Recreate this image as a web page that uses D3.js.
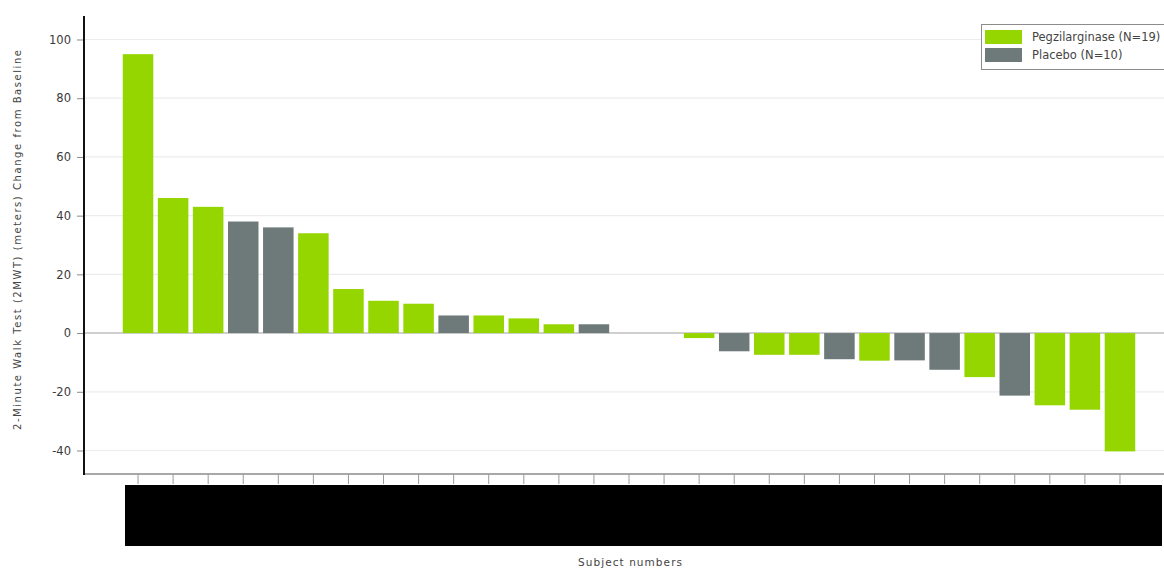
<!DOCTYPE html>
<html>
<head>
<meta charset="utf-8">
<script src="https://cdn.jsdelivr.net/npm/d3@7"></script>
<style>
  html, body { margin: 0; padding: 0; background: #ffffff; }
  svg { display: block; }
  text { font-family: "DejaVu Sans", "Liberation Sans", sans-serif; }
</style>
</head>
<body>
<svg id="chart" width="1164" height="568"></svg>
<script>
// Subjects (identifiers are masked in the label band below the axis)
const subjects = ["S01","S02","S03","S04","S05","S06","S07","S08","S09","S10",
                  "S11","S12","S13","S14","S15","S16","S17","S18","S19","S20",
                  "S21","S22","S23","S24","S25","S26","S27","S28","S29"];

// Treatment arm for each subject
const arms = ["Peg","Peg","Peg","Pbo","Pbo","Peg","Peg","Peg","Peg","Pbo",
              "Peg","Peg","Peg","Pbo","Peg","Pbo","Peg","Pbo","Peg","Peg",
              "Pbo","Peg","Pbo","Pbo","Peg","Pbo","Peg","Peg","Peg"];

// 2MWT change from baseline (meters); null = no value recorded
const changes = [95, 46, 43, 38, 36, 34, 15, 11, 10, 6,
                 6, 5, 3, 3, null, null, -1.7, -6.2, -7.4, -7.4,
                 -8.9, -9.4, -9.3, -12.5, -15, -21.3, -24.6, -26.1, -40.3];

const yTicks = [100, 80, 60, 40, 20, 0, -20, -40];

const legendLabels = ["Pegzilarginase (N=19)", "Placebo (N=10)"];
const armKeys = ["Peg", "Pbo"];
const armColors = ["#95d500", "#6e7a79"];

const rows = subjects.map((s, i) => ({ subject: s, arm: arms[i], value: changes[i] }));

const svg = d3.select("#chart");
const W = 1164;

const x = d3.scaleBand()
  .domain(subjects)
  .range([120.5, 1137.5])
  .paddingInner(0.13)
  .paddingOuter(0.065);

const y = d3.scaleLinear().domain([-48, 108]).range([474, 16]);

const color = d3.scaleOrdinal().domain(armKeys).range(armColors);

const axisLeftX = 84;

// horizontal gridlines
svg.append("g")
  .selectAll("line")
  .data(yTicks)
  .join("line")
  .attr("x1", axisLeftX).attr("x2", W)
  .attr("y1", d => y(d)).attr("y2", d => y(d))
  .attr("stroke", d => d === 0 ? "#cfcfcf" : "#ececec")
  .attr("stroke-width", d => d === 0 ? 2 : 1.2);

// bars
svg.append("g")
  .selectAll("rect")
  .data(rows.filter(d => d.value !== null))
  .join("rect")
  .attr("x", d => x(d.subject))
  .attr("width", x.bandwidth())
  .attr("y", d => y(Math.max(0, d.value)))
  .attr("height", d => Math.abs(y(d.value) - y(0)))
  .attr("fill", d => color(d.arm));

// bottom axis line and category ticks
svg.append("line")
  .attr("x1", axisLeftX).attr("x2", W)
  .attr("y1", 474).attr("y2", 474)
  .attr("stroke", "#a8a8a8").attr("stroke-width", 2);

const xAxis = svg.append("g")
  .attr("transform", "translate(0,474)")
  .call(d3.axisBottom(x).tickSize(10).tickFormat(""));
xAxis.select(".domain").remove();
xAxis.selectAll(".tick line").attr("stroke", "#9a9a9a").attr("stroke-width", 1);

// masked subject-number band
svg.append("rect")
  .attr("x", 125).attr("y", 485)
  .attr("width", 1037).attr("height", 61)
  .attr("fill", "#000000");

// left axis
const yAxis = svg.append("g")
  .attr("transform", `translate(${axisLeftX},0)`)
  .call(d3.axisLeft(y).tickValues(yTicks).tickSize(7).tickPadding(6)
    .tickSizeOuter(0).tickFormat(d => String(d)));
yAxis.select(".domain").remove();
yAxis.selectAll(".tick line").attr("stroke", "#8a8a8a");
yAxis.selectAll(".tick text")
  .attr("fill", "#3a3a3a")
  .style("font-size", "11.5px");
svg.append("line")
  .attr("x1", axisLeftX).attr("x2", axisLeftX)
  .attr("y1", 16).attr("y2", 475)
  .attr("stroke", "#111").attr("stroke-width", 2);

// axis titles
svg.append("text")
  .attr("transform", "translate(21,240) rotate(-90)")
  .attr("text-anchor", "middle")
  .attr("fill", "#444")
  .style("font-size", "10px")
  .attr("textLength", 380)
  .attr("lengthAdjust", "spacing")
  .text("2-Minute Walk Test (2MWT) (meters) Change from Baseline");

svg.append("text")
  .attr("x", 630).attr("y", 566)
  .attr("text-anchor", "middle")
  .attr("fill", "#444")
  .style("font-size", "10.5px")
  .attr("textLength", 104)
  .attr("lengthAdjust", "spacing")
  .text("Subject numbers");

// legend (box runs past the right edge of the plot)
const legend = svg.append("g");
legend.append("rect")
  .attr("x", 981.5).attr("y", 24.5)
  .attr("width", 200).attr("height", 45)
  .attr("fill", "#fff")
  .attr("stroke", "#8c8c8c").attr("stroke-width", 1);

const items = legend.selectAll("g.item")
  .data(armKeys)
  .join("g")
  .attr("class", "item")
  .attr("transform", (d, i) => `translate(985,${30 + i * 18})`);
items.append("rect")
  .attr("width", 37).attr("height", 14)
  .attr("fill", d => color(d));
items.append("text")
  .attr("x", 47).attr("y", 11)
  .attr("fill", "#444")
  .style("font-size", "11.5px")
  .text((d, i) => legendLabels[i]);
</script>
</body>
</html>
